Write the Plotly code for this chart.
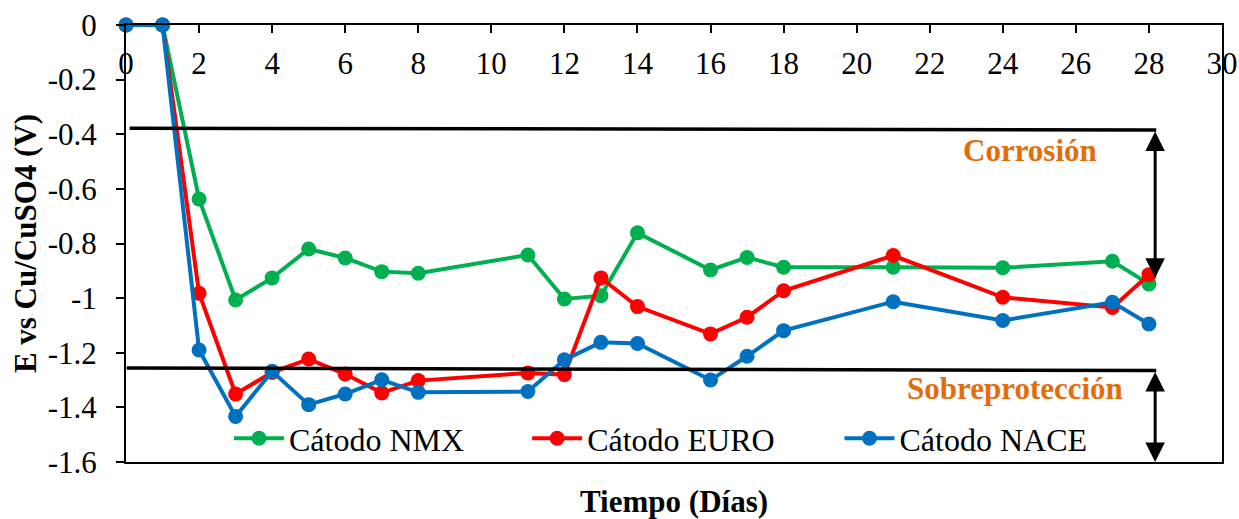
import plotly.graph_objects as go

# ---- data ----
dias = [0, 1, 2, 3, 4, 5, 6, 7, 8, 11, 12, 13, 14, 16, 17, 18, 21, 24, 27, 28]
nmx = [0, 0, -0.637, -1.007, -0.926, -0.820, -0.853, -0.903, -0.909, -0.842,
       -1.003, -0.991, -0.761, -0.897, -0.851, -0.887, -0.887, -0.889, -0.865, -0.948]
euro = [0, 0, -0.982, -1.351, -1.272, -1.223, -1.278, -1.347, -1.302, -1.274,
        -1.280, -0.926, -1.031, -1.131, -1.070, -0.973, -0.844, -0.997, -1.034, -0.914]
nace = [0, 0, -1.190, -1.433, -1.268, -1.390, -1.351, -1.299, -1.345, -1.342,
        -1.226, -1.162, -1.166, -1.300, -1.213, -1.119, -1.013, -1.082, -1.015, -1.095]

series_names = ["Cátodo NMX", "Cátodo EURO", "Cátodo NACE"]
series_colors = ["#00B050", "#FF0000", "#0070C0"]

x_tick_vals = list(range(0, 31, 2))
x_tick_text = [str(v) for v in x_tick_vals]
y_tick_vals = [0, -0.2, -0.4, -0.6, -0.8, -1.0, -1.2, -1.4, -1.6]
y_tick_text = ["0", "-0.2", "-0.4", "-0.6", "-0.8", "-1", "-1.2", "-1.4", "-1.6"]

# reference limits
corrosion_line_x = [0.1, 28.2]
corrosion_line_y = [-0.378, -0.384]
sobre_line_x = [0.02, 28.2]
sobre_line_y = [-1.256, -1.265]
arrow_x = 28.17
corrosion_arrow_y = [-0.384, -0.925]
sobre_arrow_y = [-1.265, -1.6]

FONT = "Liberation Serif"
FS = 31

fig = go.Figure()
legends = ["legend", "legend2", "legend3"]
for name, vals, col, lg in zip(series_names, [nmx, euro, nace], series_colors, legends):
    fig.add_trace(go.Scatter(
        x=dias, y=vals, name=name, mode="lines+markers",
        line=dict(color=col, width=4),
        marker=dict(color=col, size=15),
        cliponaxis=False, legend=lg,
    ))
# invisible helper trace bound to the label axis
fig.add_trace(go.Scatter(x=[0, 30], y=[0, 0], xaxis="x2", mode="markers",
                         marker=dict(opacity=0), showlegend=False, hoverinfo="skip"))

# reference lines
fig.add_shape(type="line", xref="x", yref="y",
              x0=corrosion_line_x[0], x1=corrosion_line_x[1],
              y0=corrosion_line_y[0], y1=corrosion_line_y[1],
              line=dict(color="black", width=3.5), layer="above")
fig.add_shape(type="line", xref="x", yref="y",
              x0=sobre_line_x[0], x1=sobre_line_x[1],
              y0=sobre_line_y[0], y1=sobre_line_y[1],
              line=dict(color="black", width=3.5), layer="above")

# double arrows
for ys in [corrosion_arrow_y, sobre_arrow_y]:
    fig.add_annotation(x=arrow_x, y=ys[1], ax=arrow_x, ay=ys[0],
                       xref="x", yref="y", axref="x", ayref="y",
                       text="", showarrow=True, arrowhead=2, arrowside="end+start",
                       arrowsize=1.3, arrowwidth=3, arrowcolor="black",
                       standoff=0, startstandoff=0)

fig.add_annotation(x=24.74, y=-0.46, xref="x", yref="y", text="<b>Corrosión</b>",
                   showarrow=False, font=dict(family=FONT, size=FS, color="#E46C0A"))
fig.add_annotation(x=24.34, y=-1.331, xref="x", yref="y", text="<b>Sobreprotección</b>",
                   showarrow=False, font=dict(family=FONT, size=FS, color="#E46C0A"))

# x-axis title at bottom
fig.add_annotation(x=0.5, y=-0.09, xref="paper", yref="paper", yanchor="middle",
                   text="<b>Tiempo (Días)</b>", showarrow=False,
                   font=dict(family=FONT, size=FS, color="black"))

leg_common = dict(orientation="h", yanchor="middle", y=0.054, xanchor="left",
                  bgcolor="rgba(0,0,0,0)", font=dict(family=FONT, size=32, color="black"),
                  itemwidth=50)

fig.update_layout(
    width=1239, height=519,
    margin=dict(l=126, r=17, t=25, b=57, autoexpand=False),
    paper_bgcolor="white", plot_bgcolor="white",
    font=dict(family=FONT, size=FS, color="black"),
    showlegend=True,
    legend=dict(x=0.094, **leg_common),
    legend2=dict(x=0.366, **leg_common),
    legend3=dict(x=0.651, **leg_common),
    xaxis=dict(range=[0, 30], side="top", tickvals=x_tick_vals,
               ticks="inside", ticklen=8, tickwidth=2, tickcolor="black",
               showticklabels=False, automargin=False,
               showline=True, linecolor="black", linewidth=2, mirror=True,
               showgrid=False, zeroline=False),
    xaxis2=dict(range=[0, 30], overlaying="x", anchor="free", position=0.96, side="bottom",
                tickvals=x_tick_vals, ticktext=x_tick_text, ticks="", automargin=False,
                showline=False, showgrid=False, zeroline=False,
                tickfont=dict(family=FONT, size=FS, color="black")),
    yaxis=dict(range=[-1.6, 0], tickvals=y_tick_vals, ticktext=y_tick_text,
               ticks="outside", ticklen=8, tickwidth=2, tickcolor="black",
               ticklabelstandoff=13, automargin=False,
               showline=True, linecolor="black", linewidth=2, mirror=True,
               showgrid=False, zeroline=False,
               title=dict(text="<b>E vs Cu/CuSO4 (V)</b>", standoff=2,
                          font=dict(family=FONT, size=FS, color="black")),
               tickfont=dict(family=FONT, size=FS, color="black")),
)

fig.write_html("out.html", post_script="document.body.style.margin='0';",
               config={"displayModeBar": False})
